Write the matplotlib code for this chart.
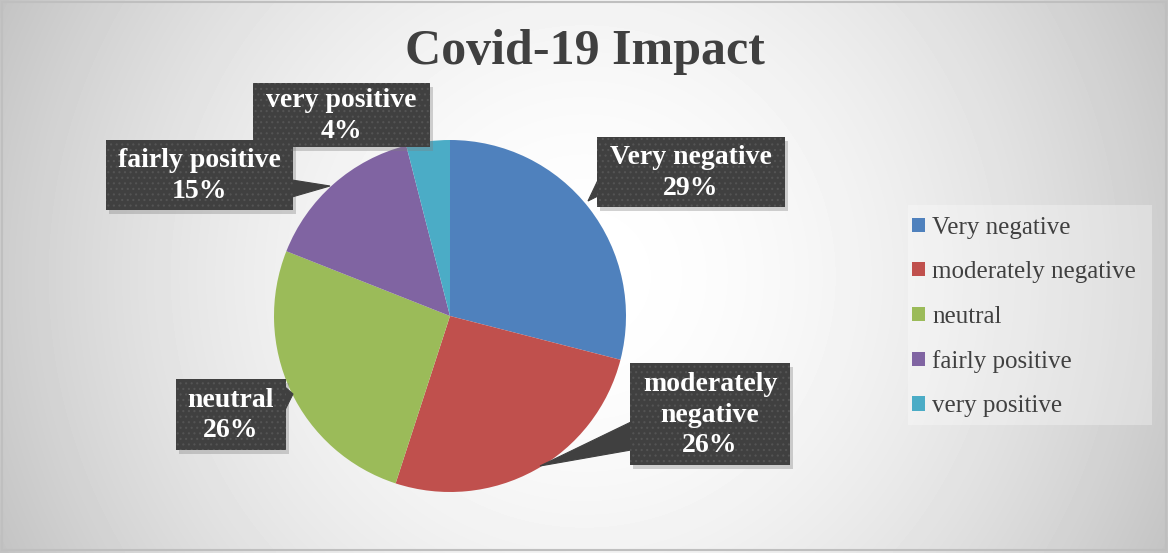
import numpy as np
import matplotlib
matplotlib.use("Agg")
import matplotlib.pyplot as plt
from matplotlib.patches import Rectangle, Polygon

# ---- data ----
categories = ["Very negative", "moderately negative", "neutral", "fairly positive", "very positive"]
values = [29, 26, 26, 15, 4]
box_labels = ["Very negative", "moderately\nnegative", "neutral", "fairly positive", "very positive"]
colors = ["#4F81BD", "#C0504D", "#9BBB59", "#8064A2", "#4BACC6"]
title = "Covid-19 Impact"

W, H = 1168, 553
SERIF = ["Liberation Serif", "DejaVu Serif"]
plt.rcParams["hatch.linewidth"] = 0.8

fig = plt.figure(figsize=(W / 100, H / 100), dpi=100)

# background gradient
bg = fig.add_axes([0, 0, 1, 1])
yy, xx = np.mgrid[0:H, 0:W]
d = np.hypot(xx - 584, yy - 276) / 646.0
c = 1.0 - (60 / 255.0) * np.clip(d, 0, 1) ** 1.8
bg.imshow(c, cmap="gray", vmin=0, vmax=1, extent=(0, W, H, 0), aspect="auto",
          interpolation="bilinear")
bg.set_xlim(0, W)
bg.set_ylim(H, 0)
bg.axis("off")

ax = fig.add_axes([0, 0, 1, 1])
ax.patch.set_alpha(0)


def Y(py):
    return H - py


# pie
wedges, _ = ax.pie(values, colors=colors, startangle=90, counterclock=False,
                   center=(450, Y(316)), radius=176, frame=True,
                   wedgeprops=dict(linewidth=0))
ax.set_xlim(0, W)
ax.set_ylim(0, H)
ax.set_aspect("auto")
ax.axis("off")

# label boxes (pixel geometry: x0, x1, y0, y1, pointer polygon)
boxes = [
    (597, 785, 137, 207, [(598, 180), (588, 201), (598, 196)]),
    (630, 790, 363, 465, [(631, 422), (540, 466), (631, 450)]),
    (176, 286, 379, 450, [(285, 387), (293, 394), (285, 410)]),
    (106, 293, 140, 210, [(292, 180), (330, 186), (292, 197)]),
    (253, 430, 83, 147, None),
]

for i, (x0, x1, y0, y1, ptr) in enumerate(boxes):
    # shadow
    ax.add_patch(Rectangle((x0 + 3, Y(y1 + 4)), x1 - x0, y1 - y0,
                           facecolor="#7f7f7f", alpha=0.35, lw=0, zorder=4))
    if ptr:
        ax.add_patch(Polygon([(px, Y(py)) for px, py in ptr], closed=True,
                             facecolor="#404040", edgecolor="#404040", lw=0.8, zorder=5))
    ax.add_patch(Rectangle((x0, Y(y1)), x1 - x0, y1 - y0, facecolor="#404040",
                           edgecolor="#545454", lw=0, hatch="...", zorder=5))
    txt = f"{box_labels[i]}\n{values[i]}%"
    ax.text((x0 + x1) / 2, Y((y0 + y1) / 2 + 1), txt, ha="center", va="center",
            color="white", fontsize=20, fontweight="bold", family=SERIF,
            linespacing=1.3, zorder=6)

# title
ax.text(585, Y(52), title, ha="center", va="center", fontsize=36,
        fontweight="bold", color="#404040", family=SERIF, zorder=6)

# legend background
ax.add_patch(Rectangle((908, Y(425)), 1152 - 908, 425 - 205, facecolor="white",
                       alpha=0.3, lw=0, zorder=2))
leg = ax.legend(wedges, categories, loc="center left",
                bbox_to_anchor=(912, Y(317)), bbox_transform=ax.transData,
                frameon=False, prop=dict(family=SERIF, size=18),
                handlelength=0.5, handleheight=0.5, handletextpad=0.3,
                labelspacing=0.9, borderpad=0, borderaxespad=0)
for t in leg.get_texts():
    t.set_color("#404040")

# outer border
ax.add_patch(Rectangle((1.5, Y(550)), W - 3.5, 548, facecolor="none",
                       edgecolor="#bfbfbf", lw=1.5, zorder=10))

fig.savefig("out.png", dpi=100)
